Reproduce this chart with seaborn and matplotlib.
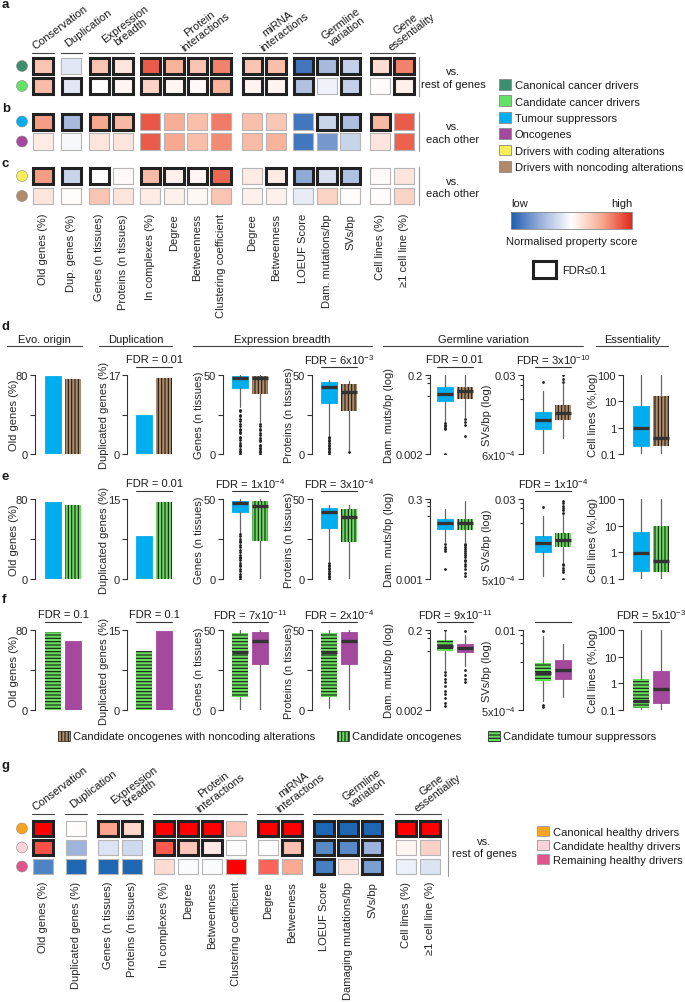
import numpy as np
import matplotlib
matplotlib.use('Agg')
import matplotlib.pyplot as plt
import seaborn as sns
from matplotlib.colors import LinearSegmentedColormap
from matplotlib.patches import Rectangle, Patch
from matplotlib.lines import Line2D
from matplotlib.ticker import NullFormatter, NullLocator
from matplotlib.transforms import blended_transform_factory

sns.set_style('ticks')
plt.rcParams['font.family'] = ['Liberation Sans', 'DejaVu Sans']
plt.rcParams['font.size'] = 8
plt.rcParams['mathtext.fontset'] = 'custom'
plt.rcParams['mathtext.rm'] = 'Liberation Sans'
plt.rcParams['mathtext.it'] = 'Liberation Sans:italic'
plt.rcParams['mathtext.bf'] = 'Liberation Sans:bold'
plt.rcParams['hatch.linewidth'] = 0.8
plt.rcParams['hatch.color'] = '#1a1a1a'
plt.rcParams['text.color'] = '#1a1a1a'

# ---------------- heatmap data (normalised property scores) ----------------
groups = ['Conservation', 'Duplication', 'Expression\nbreadth', 'Protein\ninteractions',
          'miRNA\ninteractions', 'Germline\nvariation', 'Gene\nessentiality']
group_sizes = [1, 1, 2, 4, 2, 3, 2]
props_abc = ['Old genes (%)', 'Dup. genes (%)', 'Genes (n tissues)', 'Proteins (n tissues)',
             'In complexes (%)', 'Degree', 'Betweenness', 'Clustering coefficient', 'Degree',
             'Betweenness', 'LOEUF Score', 'Dam. mutations/bp', 'SVs/bp', 'Cell lines (%)',
             '≥1 cell line (%)']
props_g = ['Old genes (%)', 'Duplicated genes (%)', 'Genes (n tissues)', 'Proteins (n tissues)',
           'In complexes (%)', 'Degree', 'Betweenness', 'Clustering coefficient', 'Degree',
           'Betweeness', 'LOEUF Score', 'Damaging mutations/bp', 'SVs/bp', 'Cell lines (%)',
           '≥1 cell line (%)']

# a: canonical / candidate cancer drivers vs rest of genes
score_a = [[0.35, -0.15, 0.35, 0.15, 0.8, 0.45, 0.35, 0.65, 0.35, 0.38, -0.85, -0.45, -0.3, 0.2, 0.65],
           [0.4, -0.15, 0.0, 0.05, 0.25, 0.05, 0.03, 0.45, 0.06, 0.06, -0.4, -0.08, -0.3, 0.02, 0.1]]
fdr_a = [[1, 0, 1, 1, 1, 1, 1, 1, 1, 1, 1, 1, 1, 1, 1],
         [1, 1, 1, 1, 1, 1, 1, 1, 1, 1, 1, 0, 1, 0, 1]]
# b: tumour suppressors vs oncogenes
score_b = [[0.55, -0.45, 0.5, 0.42, 0.82, 0.48, 0.38, 0.68, 0.38, 0.33, -0.85, -0.28, -0.42, 0.42, 0.8],
           [0.12, -0.04, 0.15, 0.15, 0.8, 0.5, 0.38, 0.62, 0.4, 0.45, -0.85, -0.65, -0.28, 0.15, 0.78]]
fdr_b = [[1, 1, 1, 1, 0, 0, 0, 0, 0, 0, 0, 1, 1, 1, 0],
         [0, 0, 0, 0, 0, 0, 0, 0, 0, 0, 0, 0, 0, 0, 0]]
# c: drivers with coding vs noncoding alterations
score_c = [[0.55, -0.28, 0.0, 0.03, 0.4, 0.1, 0.05, 0.75, 0.12, 0.12, -0.55, -0.2, -0.4, 0.03, 0.15],
           [0.15, 0.02, 0.35, 0.15, 0.12, 0.08, 0.04, 0.35, 0.08, 0.08, -0.12, 0.25, 0.02, 0.02, 0.25]]
fdr_c = [[1, 1, 1, 0, 1, 1, 1, 1, 0, 1, 1, 1, 1, 0, 0],
         [0, 0, 0, 0, 0, 0, 0, 0, 0, 0, 0, 0, 0, 0, 0]]
# g: healthy drivers vs rest of genes
score_g = [[1.0, 0.02, 0.5, 0.22, 1.0, 1.0, 1.0, 0.32, 1.0, 1.0, -0.95, -0.95, -0.95, 1.0, 1.0],
           [0.75, -0.5, -0.18, -0.25, 0.72, 0.32, 0.12, 0.0, 0.0, 0.35, -0.75, -0.75, -0.5, 0.05, 0.25],
           [-0.78, -0.95, -0.95, -0.95, 0.2, -0.03, -0.03, 1.0, 0.7, 0.48, -0.8, 0.15, -0.62, -0.1, -0.18]]
fdr_g = [[1, 0, 1, 1, 1, 1, 1, 0, 1, 1, 1, 1, 1, 1, 1],
         [1, 0, 0, 0, 1, 1, 1, 0, 0, 1, 1, 1, 1, 0, 0],
         [0, 0, 0, 0, 0, 0, 0, 0, 0, 0, 1, 0, 1, 0, 0]]

names_abc = ['Canonical cancer drivers', 'Candidate cancer drivers', 'Tumour suppressors',
             'Oncogenes', 'Drivers with coding alterations', 'Drivers with noncoding alterations']
colors_abc = ['#3d8f6f', '#66e066', '#00aeef', '#a3489c', '#f8ee55', '#b08a6a']
names_g = ['Canonical healthy drivers', 'Candidate healthy drivers', 'Remaining healthy drivers']
colors_g = ['#f7a520', '#fcd3dd', '#e0568a']

# ---------------- d/e/f data ----------------
blue, brown, green, purple = '#00aeef', '#b08b68', '#66dd5a', '#a4499d'
cats_d = ['Tumour suppressors', 'Candidate oncogenes with noncoding alterations']
cats_e = ['Tumour suppressors', 'Candidate oncogenes']
cats_f = ['Candidate tumour suppressors', 'Oncogenes']

# bars: % old genes, % duplicated genes
old_d, dup_d = [79, 76], [8.4, 16.4]
old_e, dup_e = [77, 74], [8.1, 14.4]
old_f, dup_f = [78, 69], [11.1, 14.8]

# boxes: [whislo, q1, median, q3, whishi]
genes_d = [[30, 42, 48, 49.5, 50], [20, 38, 48, 49.5, 50]]
genes_d_fl = [[0, 1, 2, 3, 5, 6, 7, 9, 10, 11, 13, 14, 15, 16, 18, 19, 21, 22, 24, 25, 27, 28],
              [0, 1, 2, 3, 4, 5, 6, 8, 9, 10, 12, 13, 15, 16, 18, 19]]
prot_d = [[12, 32, 42.5, 45.5, 47], [2, 27, 39, 44.5, 46]]
prot_d_fl = [[0, 1, 2, 3, 4, 5, 6, 7, 8, 9, 10, 11], [1]]
dam_d = [[0.013, 0.044, 0.066, 0.099, 0.2], [0.017, 0.049, 0.078, 0.099, 0.2]]
dam_d_fl = [[0.012, 0.011, 0.010, 0.009, 0.0085, 0.002], [0.015, 0.013, 0.011, 0.0057]]
svs_d = [[0.0006, 0.0021, 0.0032, 0.0048, 0.0136], [0.0013, 0.0032, 0.0046, 0.0068, 0.019]]
svs_d_fl = [[0.021], [0.021, 0.025, 0.03]]
cell_d = [[0.1, 0.2, 1.0, 6.6, 100], [0.1, 0.2, 0.4, 15.8, 100]]
cell_d_fl = [[], []]

genes_e = [[29, 42, 47.5, 48.5, 50], [0, 24, 45.5, 49, 50]]
genes_e_fl = [[0, 1, 2, 3, 5, 6, 8, 9, 10, 12, 13, 14, 15, 17, 18, 20, 21, 23, 24, 25, 27, 28], []]
prot_e = [[11, 32, 42, 44.5, 46], [0, 23, 39, 44, 46]]
prot_e_fl = [[0, 1, 2, 3, 4, 5, 6, 7, 8, 9, 10], []]
dam_e = [[0.014, 0.035, 0.054, 0.072, 0.147], [0.014, 0.033, 0.054, 0.072, 0.26]]
dam_e_fl = [[0.012, 0.010, 0.0085, 0.0075, 0.002],
            [0.012, 0.011, 0.0095, 0.0085, 0.0075, 0.0065, 0.0055, 0.0048, 0.004, 0.0035,
             0.003, 0.0025, 0.002, 0.0015, 0.0012]]
svs_e = [[0.00059, 0.002, 0.0032, 0.0045, 0.0126], [0.0012, 0.0026, 0.0037, 0.0053, 0.014]]
svs_e_fl = [[0.02], [0.027, 0.024, 0.021, 0.019, 0.017, 0.015, 0.0011, 0.001, 0.0009,
                     0.0008, 0.0007, 0.0005]]
cell_e = [[0.1, 0.2, 0.95, 5.8, 100], [0.1, 0.19, 0.48, 9.8, 100]]
cell_e_fl = [[], []]

genes_f = [[0, 8, 36, 48, 50], [0, 29, 43, 49, 50]]
genes_f_fl = [[], []]
prot_f = [[1, 8, 36, 48, 50], [0, 29, 43, 49, 50]]
prot_f_fl = [[], []]
dam_f = [[0.02, 0.06, 0.08, 0.11, 0.18], [0.025, 0.055, 0.07, 0.09, 0.15]]
dam_f_fl = [[0.2, 0.018, 0.015, 0.012, 0.01, 0.008, 0.006, 0.005, 0.004, 0.003, 0.0025],
            [0.19, 0.02, 0.015, 0.012, 0.01]]
svs_f = [[0.0007, 0.0015, 0.002, 0.0029, 0.008], [0.0008, 0.0016, 0.0022, 0.0032, 0.006]]
svs_f_fl = [[0.0095, 0.0006, 0.00055], []]
cell_f = [[0.1, 0.12, 0.22, 1.5, 100], [0.1, 0.18, 0.6, 3, 100]]
cell_f_fl = [[], []]

fdr_d = [None, '0.01', None, '6x10$^{-3}$', '0.01', '3x10$^{-10}$', None]
fdr_e = [None, '0.01', '1x10$^{-4}$', '3x10$^{-4}$', None, '1x10$^{-4}$', None]
fdr_f = ['0.1', '0.1', '7x10$^{-11}$', '2x10$^{-4}$', '9x10$^{-11}$', '', '5x10$^{-3}$']

# ---------------- helpers ----------------
W, H = 685, 1003
fig = plt.figure(figsize=(W / 100, H / 100), dpi=100)


def add_ax(x0, y0, x1, y1):
    return fig.add_axes([x0 / W, 1 - y1 / H, (x1 - x0) / W, (y1 - y0) / H])


def fig_text(x, y, s, **kw):
    return fig.text(x / W, 1 - y / H, s, **kw)


def fig_line(xs, ys, **kw):
    fig.add_artist(Line2D([x / W for x in xs], [1 - y / H for y in ys], **kw))


cmap_abc = LinearSegmentedColormap.from_list('abc', ['#1c5cb0', '#9db2da', '#ffffff', '#f7ab90', '#e4281c'])
cmap_g = LinearSegmentedColormap.from_list('g', ['#0f5fb0', '#9fb4dc', '#ffffff', '#fca690', '#ff0000'])


def heat_block(scores, fdr, y0, y1, starts, step, cmap, dots, labels=None, header_y=None, label_pad=5):
    scores = np.asarray(scores, dtype=float)
    fdr = np.asarray(fdr)
    nrow = scores.shape[0]
    row_h = (y1 - y0) / nrow
    ix, iy = 2.0 / step, 2.0 / row_h
    col = 0
    for gi, n in enumerate(group_sizes):
        x0 = starts[gi]
        ax = add_ax(x0, y0, x0 + n * step, y1)
        sns.heatmap(scores[:, col:col + n], ax=ax, cmap=cmap, vmin=-1, vmax=1, cbar=False,
                    linewidths=2, linecolor='white',
                    xticklabels=labels[col:col + n] if labels else False, yticklabels=False)
        for i in range(nrow):
            for j in range(n):
                if fdr[i, col + j]:
                    ax.add_patch(Rectangle((j + ix, i + iy), 1 - 2 * ix, 1 - 2 * iy, fill=False,
                                           ec='#222222', lw=2.2, clip_on=False))
                else:
                    ax.add_patch(Rectangle((j + 0.8 * ix, i + 0.8 * iy), 1 - 1.6 * ix, 1 - 1.6 * iy,
                                           fill=False, ec='#b5b5b5', lw=0.8, clip_on=False))
        if labels:
            ax.tick_params(axis='x', length=0, pad=label_pad)
            plt.setp(ax.get_xticklabels(), rotation=90, ha='center', va='top', fontsize=8)
        if header_y is not None:
            xa, xb = x0 + 1, x0 + n * step - 1
            fig_line([xa, xb], [header_y, header_y], color='#444444', lw=0.8)
            fig_text((xa + xb) / 2 + 17, header_y - 26, groups[gi], rotation=37,
                     ha='center', va='center', linespacing=1.0, multialignment='center')
        col += n
    dax = add_ax(14, y0, 30, y1)
    dax.scatter([0] * nrow, np.arange(nrow) + 0.5, s=62, c=dots, edgecolors='#888888', linewidths=0.4)
    dax.set_xlim(-1, 1)
    dax.set_ylim(nrow, 0)
    dax.axis('off')


# ---------------- panels a, b, c ----------------
starts_abc = [31, 59.5, 87.5, 138.5, 240.5, 291.5, 368.5]
heat_block(score_a, fdr_a, 57, 97, starts_abc, 23.5, cmap_abc, colors_abc[0:2], header_y=54)
heat_block(score_b, fdr_b, 112.5, 152.5, starts_abc, 23.5, cmap_abc, colors_abc[2:4])
heat_block(score_c, fdr_c, 167, 207, starts_abc, 23.5, cmap_abc, colors_abc[4:6], labels=props_abc)

for y0, y1, txt in [(58, 97, 'vs.\nrest of genes'), (113, 152, 'vs.\neach other'), (168, 206, 'vs.\neach other')]:
    fig_line([419, 419], [y0, y1], color='#999999', lw=0.8)
    fig_text(453, (y0 + y1) / 2 + 1, txt, ha='center', va='center', linespacing=1.3)

fig.legend([Patch(facecolor=c, edgecolor='#888888', lw=0.6) for c in colors_abc], names_abc,
           loc='upper left', bbox_to_anchor=(499 / W, 1 - 80 / H), frameon=False, borderpad=0,
           borderaxespad=0, handlelength=1.1, handleheight=1.1, handletextpad=0.3,
           labelspacing=0.48, fontsize=8)

cax = add_ax(511, 213, 632, 230)
sm = plt.cm.ScalarMappable(cmap=cmap_abc, norm=plt.Normalize(-1, 1))
cb = fig.colorbar(sm, cax=cax, orientation='horizontal')
cb.set_ticks([])
cb.outline.set_edgecolor('#888888')
cb.outline.set_linewidth(0.6)
fig_text(511, 204, 'low', ha='left', va='center')
fig_text(632, 204, 'high', ha='right', va='center')
fig_text(572, 242, 'Normalised property score', ha='center', va='center')
fax = add_ax(533, 262, 556, 279)
fax.set_xticks([])
fax.set_yticks([])
for sp in fax.spines.values():
    sp.set_linewidth(2.2)
    sp.set_color('#222222')
fig_text(562, 270.5, 'FDR≤0.1', ha='left', va='center')

# ---------------- panels d, e, f ----------------
specs = [(35, -0.9), (127, -0.85), (223, -0.85), (312, -0.85), (430, -0.75), (523, -1.0), (623, -0.9)]
ylabels = ['Old genes (%)', 'Duplicated genes (%)', 'Genes (n tissues)', 'Proteins (n tissues)',
           'Dam. muts/bp (log)', 'SVs/bp (log)', 'Cell lines (%,log)']
ylabel_dx = [-15.5, -18.5, -18.5, -18.5, -36.5, -31.5, -24.5]


def style_ax(ax):
    sns.despine(ax=ax, bottom=True)
    ax.spines['left'].set_color('#333333')
    ax.spines['left'].set_linewidth(0.8)
    ax.tick_params(axis='y', which='major', length=3.5, width=0.8, color='#333333', pad=1.5, labelsize=8)
    ax.tick_params(axis='y', which='minor', length=2.5, width=0.8, color='#333333')
    ax.set_xticks([])
    ax.set_xlabel('')


def paint(patches, colors, hatches):
    for p, c, h in zip(patches, colors, hatches):
        p.set_facecolor(c)
        if h:
            p.set_hatch(h)
            p.set_edgecolor('#1a1a1a')
            p.set_linewidth(0)
        else:
            p.set_edgecolor(c)
            p.set_linewidth(0.6)


def draw_bars(ax, cats, vals, colors, hatches):
    sns.barplot(x=cats, y=vals, hue=cats, palette=colors, legend=False, width=0.8,
                saturation=1, ax=ax)
    paint(ax.patches, colors, hatches)


def draw_box(ax, stats5, fliers, colors, hatches):
    stats = [dict(whislo=s[0], q1=s[1], med=s[2], q3=s[3], whishi=s[4], fliers=f)
             for s, f in zip(stats5, fliers)]
    bp = ax.bxp(stats, positions=[0, 1], widths=0.8, patch_artist=True, showcaps=False,
                medianprops=dict(color='#333333', linewidth=2.4, solid_capstyle='butt'),
                whiskerprops=dict(color='#666666', linewidth=0.9),
                flierprops=dict(marker='o', markersize=2.0, markerfacecolor='#222222',
                                markeredgecolor='none'))
    paint(bp['boxes'], colors, hatches)


def fdr_mark(ax, txt, ax_h):
    if txt is None:
        return
    tr = blended_transform_factory(ax.transData, ax.transAxes)
    ax.plot([-0.4, 1.4], [1 + 8 / ax_h] * 2, transform=tr, color='#333333', lw=0.8, clip_on=False)
    if txt:
        ax.text(0.5, 1 + 16 / ax_h, 'FDR = ' + txt, transform=tr, ha='center', va='center')


def lin_axis(ax, top):
    ax.set_ylim(0, top)
    ax.set_yticks([0, top / 2, top])
    ax.set_yticklabels(['0', '', f'{top:g}'])


def log_axis(ax, lo, hi, lo_lab, hi_lab):
    ax.set_yscale('log')
    ax.set_ylim(lo, hi)
    ax.set_yticks([lo, hi])
    ax.set_yticklabels([lo_lab, hi_lab])
    ax.set_yticks([hi * 0.82, hi * 0.62, hi * 0.3], minor=True)
    ax.yaxis.set_minor_formatter(NullFormatter())


def stat_row(y0, y1, cats, colors, hatches, old, dup, dup_top, genes, prot, dam, svs, cell, fdrs,
             dam_lim, svs_lim):
    ax_h = y1 - y0
    axes = []
    for (sx, xl) in specs:
        ax = add_ax(sx, y0, sx + (1.5 - xl) * 20, y1)
        axes.append(ax)
    draw_bars(axes[0], cats, old, colors, hatches)
    lin_axis(axes[0], 80)
    draw_bars(axes[1], cats, dup, colors, hatches)
    lin_axis(axes[1], dup_top)
    draw_box(axes[2], genes[0], genes[1], colors, hatches)
    lin_axis(axes[2], 50)
    draw_box(axes[3], prot[0], prot[1], colors, hatches)
    lin_axis(axes[3], 50)
    draw_box(axes[4], dam[0], dam[1], colors, hatches)
    log_axis(axes[4], *dam_lim)
    draw_box(axes[5], svs[0], svs[1], colors, hatches)
    log_axis(axes[5], *svs_lim)
    draw_box(axes[6], cell[0], cell[1], colors, hatches)
    axes[6].set_yscale('log')
    axes[6].set_ylim(0.1, 100)
    axes[6].set_yticks([0.1, 1, 10, 100])
    axes[6].set_yticklabels(['0.1', '1', '10', '100'])
    axes[6].yaxis.set_minor_locator(NullLocator())
    for ax, (sx, xl), lab, dx, f in zip(axes, specs, ylabels, ylabel_dx, fdrs):
        style_ax(ax)
        ax.set_xlim(xl, 1.5)
        ax.set_ylabel(lab, fontsize=8)
        ax.yaxis.set_label_coords(dx / ((1.5 - xl) * 20), 0.5)
        fdr_mark(ax, f, ax_h)


stat_row(376, 455, cats_d, [blue, brown], ['', '|||||'], old_d, dup_d, 17,
         (genes_d, genes_d_fl), (prot_d, prot_d_fl), (dam_d, dam_d_fl), (svs_d, svs_d_fl),
         (cell_d, cell_d_fl), fdr_d, (0.002, 0.2, '0.002', '0.2'),
         (0.0006, 0.03, '6x10$^{-4}$', '0.03'))
stat_row(500, 580, cats_e, [blue, green], ['', '|||||'], old_e, dup_e, 15,
         (genes_e, genes_e_fl), (prot_e, prot_e_fl), (dam_e, dam_e_fl), (svs_e, svs_e_fl),
         (cell_e, cell_e_fl), fdr_e, (0.001, 0.3, '0.001', '0.3'),
         (0.0005, 0.03, '5x10$^{-4}$', '0.03'))
stat_row(631, 711, cats_f, [green, purple], ['-----', ''], old_f, dup_f, 15,
         (genes_f, genes_f_fl), (prot_f, prot_f_fl), (dam_f, dam_f_fl), (svs_f, svs_f_fl),
         (cell_f, cell_f_fl), fdr_f, (0.002, 0.2, '0.002', '0.2'),
         (0.0005, 0.01, '5x10$^{-4}$', '0.01'))

for title, xa, xb in [('Evo. origin', 7, 82), ('Duplication', 99, 172), ('Expression breadth', 193, 372),
                      ('Germline variation', 383, 583), ('Essentiality', 596, 668)]:
    fig_line([xa, xb], [347, 347], color='#444444', lw=0.8)
    fig_text((xa + xb) / 2, 340, title, ha='center', va='center')

leg_items = [(cats_d[1], brown, '|||||', 58), (cats_e[1], green, '|||||', 337),
             (cats_f[0], green, '-----', 488)]
for lab, c, h, x in leg_items:
    fig.legend([Patch(facecolor=c, edgecolor='#1a1a1a', hatch=h, lw=0.5)], [lab],
               loc='center left', bbox_to_anchor=(x / W, 1 - 737 / H), frameon=False, borderpad=0,
               borderaxespad=0, handlelength=1.05, handleheight=1.0, handletextpad=0.3, fontsize=8)

# ---------------- panel g ----------------
starts_g = [31, 64, 96, 152, 256, 312, 394]
heat_block(score_g, fdr_g, 820, 877, starts_g, 24, cmap_g, colors_g, labels=props_g, header_y=815,
           label_pad=3.5)
fig_line([448, 448], [820, 877], color='#999999', lw=0.8)
fig_text(484, 848, 'vs.\nrest of genes', ha='center', va='center', linespacing=1.3)
fig.legend([Patch(facecolor=c, edgecolor='#999999', lw=0.6) for c in colors_g], names_g,
           loc='upper left', bbox_to_anchor=(537 / W, 1 - 827 / H), frameon=False, borderpad=0,
           borderaxespad=0, handlelength=1.05, handleheight=1.0, handletextpad=0.35,
           labelspacing=0.3, fontsize=8)

# ---------------- panel letters ----------------
for letter, y in [('a', 8), ('b', 112), ('c', 167), ('d', 330), ('e', 480), ('f', 603), ('g', 769)]:
    fig_text(2, y, letter, fontweight='bold', fontsize=9.5, va='baseline', ha='left')

fig.savefig('out.png', dpi=100)
